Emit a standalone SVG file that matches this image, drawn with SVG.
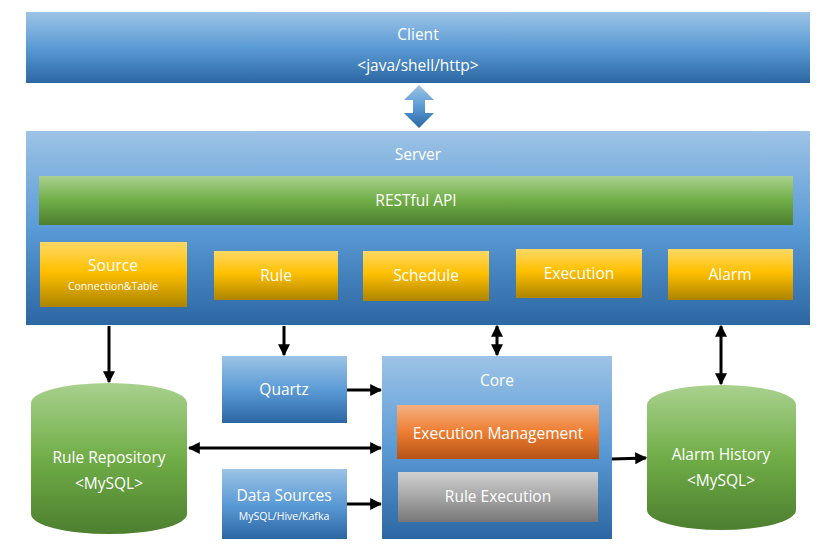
<svg xmlns="http://www.w3.org/2000/svg" width="834" height="559" viewBox="0 0 834 559">
<defs>
<linearGradient id="gBlue" x1="0" y1="0" x2="0" y2="1"><stop offset="0" stop-color="#9dc3e6"/><stop offset="0.5" stop-color="#5b9bd5"/><stop offset="1" stop-color="#2c67a3"/></linearGradient>
<linearGradient id="gGreen" x1="0" y1="0" x2="0" y2="1"><stop offset="0" stop-color="#a9d18e"/><stop offset="0.5" stop-color="#70ad47"/><stop offset="1" stop-color="#4d7f2f"/></linearGradient>
<linearGradient id="gGold" x1="0" y1="0" x2="0" y2="1"><stop offset="0" stop-color="#ffd966"/><stop offset="0.45" stop-color="#ffc000"/><stop offset="1" stop-color="#ad8400"/></linearGradient>
<linearGradient id="gOrange" x1="0" y1="0" x2="0" y2="1"><stop offset="0" stop-color="#f4b183"/><stop offset="0.5" stop-color="#ed7d31"/><stop offset="1" stop-color="#b65317"/></linearGradient>
<linearGradient id="gGray" x1="0" y1="0" x2="0" y2="1"><stop offset="0" stop-color="#d0d0d0"/><stop offset="0.5" stop-color="#a6a6a6"/><stop offset="1" stop-color="#787878"/></linearGradient>
<marker id="ah" viewBox="0 0 10 10" refX="9" refY="5" markerWidth="4" markerHeight="4" orient="auto-start-reverse" markerUnits="strokeWidth"><path d="M0,0 L10,5 L0,10 z" fill="#000"/></marker>
</defs>
<style>
text{font-family:"Open Sans","Noto Sans","DejaVu Sans",sans-serif;fill:#fff;text-anchor:middle;dominant-baseline:central}
.t{font-size:15.5px}
.s{font-size:10.5px}
.c{stroke:#000;stroke-width:3;fill:none;marker-end:url(#ah)}
.b{marker-start:url(#ah)}
</style>
<g id="client"><rect x="26" y="12" width="784" height="71" fill="url(#gBlue)"/><text class="t" x="418" y="34">Client</text><text class="t" x="418" y="65">&lt;java/shell/http&gt;</text></g>
<g id="client-server-arrow"><path d="M419,85 L434,100 L425,100 L425,113 L434,113 L419,128 L404,113 L413,113 L413,100 L404,100 z" fill="url(#gBlue)"/></g>
<g id="server"><rect x="26" y="131" width="784" height="194" fill="url(#gBlue)"/><text class="t" x="418" y="154">Server</text></g>
<g id="restful"><rect x="39" y="176" width="754" height="49" fill="url(#gGreen)"/><text class="t" x="416" y="200">RESTful API</text></g>
<g id="source"><rect x="40" y="242" width="147" height="65" fill="url(#gGold)"/><text class="t" x="113" y="265">Source</text><text class="s" x="113" y="286">Connection&amp;Table</text></g>
<g id="rule"><rect x="214" y="251" width="124" height="49" fill="url(#gGold)"/><text class="t" x="276" y="275">Rule</text></g>
<g id="schedule"><rect x="363" y="251" width="126" height="50" fill="url(#gGold)"/><text class="t" x="426" y="275">Schedule</text></g>
<g id="execution"><rect x="516" y="249" width="126" height="49" fill="url(#gGold)"/><text class="t" x="579" y="273">Execution</text></g>
<g id="alarm"><rect x="668" y="249" width="125" height="51" fill="url(#gGold)"/><text class="t" x="730" y="274">Alarm</text></g>
<g id="quartz"><rect x="222" y="356" width="125" height="67" fill="url(#gBlue)"/><text class="t" x="284" y="389">Quartz</text></g>
<g id="datasources"><rect x="222" y="469" width="125" height="70" fill="url(#gBlue)"/><text class="t" x="284" y="495">Data Sources</text><text class="s" x="284" y="516">MySQL/Hive/Kafka</text></g>
<g id="core"><rect x="382" y="356" width="230" height="183" fill="url(#gBlue)"/><text class="t" x="497" y="380">Core</text></g>
<g id="execmgmt"><rect x="397" y="405" width="202" height="54" fill="url(#gOrange)"/><text class="t" x="498" y="433">Execution Management</text></g>
<g id="ruleexec"><rect x="398" y="472" width="200" height="50" fill="url(#gGray)"/><text class="t" x="498" y="496">Rule Execution</text></g>
<g id="rulerepo"><path d="M31,403 A78,20 0 0 1 187,403 L187,514 A78,20 0 0 1 31,514 z" fill="url(#gGreen)"/><text class="t" x="109" y="457">Rule Repository</text><text class="t" x="109" y="483">&lt;MySQL&gt;</text></g>
<g id="alarmhistory"><path d="M647,405 A74.5,20 0 0 1 796,405 L796,510 A74.5,20 0 0 1 647,510 z" fill="url(#gGreen)"/><text class="t" x="721" y="454">Alarm History</text><text class="t" x="721" y="480">&lt;MySQL&gt;</text></g>
<g id="connectors">
<line class="c" x1="109" y1="326" x2="109" y2="382"/>
<line class="c" x1="284" y1="326" x2="284" y2="355"/>
<line class="c b" x1="497" y1="326" x2="497" y2="355"/>
<line class="c b" x1="721" y1="326" x2="721" y2="384"/>
<line class="c" x1="347" y1="390" x2="381" y2="390"/>
<line class="c b" x1="189" y1="448" x2="381" y2="448"/>
<line class="c" x1="347" y1="504" x2="381" y2="504"/>
<line class="c" x1="612" y1="459" x2="646" y2="458"/>
</g>
</svg>
